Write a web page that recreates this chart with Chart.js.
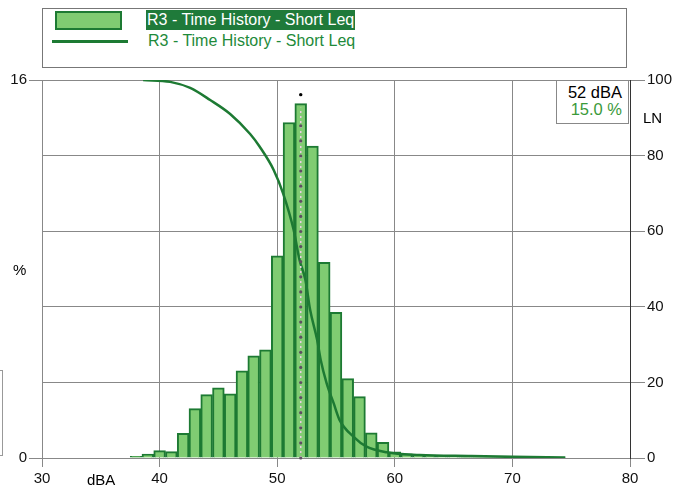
<!DOCTYPE html>
<html>
<head>
<meta charset="utf-8">
<script src="https://cdn.jsdelivr.net/npm/chart.js@4/dist/chart.umd.min.js"></script>
<style>
  html, body { margin:0; padding:0; background:#fff; }
  #wrap { position:relative; width:680px; height:490px; font-family:"Liberation Sans", Arial, sans-serif; }
  #c { position:absolute; left:0; top:0; }
  .abs { position:absolute; white-space:nowrap; }
  #legend { left:42px; top:8px; width:585px; height:60px; border:1px solid #777; background:#fff; box-sizing:border-box; }
  #sw1 { left:12px; top:2px; width:67px; height:19px; background:#80cc72; border:2px solid #1d7a33; box-sizing:border-box; }
  #sw2 { left:9px; top:31px; width:76px; height:3px; background:#1d7a33; }
  #lt1 { left:103px; top:1px; height:20px; line-height:20px; padding:0 1px; background:#1f7a3a; color:#fff; font-size:16px; }
  #lt2 { left:105px; top:22px; line-height:20px; color:#1e8a3a; font-size:16px; }
  #info { left:556px; top:80px; width:73px; height:44px; border:1px solid #888; background:#fff; box-sizing:border-box; font-size:16.5px; text-align:right; padding-right:6px; line-height:17px; padding-top:3px; }
  #info .g { color:#3a9a3a; }
</style>
</head>
<body>
<div id="wrap">
  <canvas id="c" width="680" height="490"></canvas>
  <div id="legend" class="abs">
    <div id="sw1" class="abs"></div>
    <div id="lt1" class="abs">R3 - Time History - Short Leq</div>
    <div id="sw2" class="abs"></div>
    <div id="lt2" class="abs">R3 - Time History - Short Leq</div>
  </div>
  <div id="info" class="abs"><div>52 dBA</div><div class="g">15.0 %</div></div>
  <div class="abs" style="left:13px;top:261px;font-size:15px;">%</div>
  <div class="abs" style="left:643px;top:109px;font-size:15px;">LN</div>
  <div class="abs" style="left:87px;top:471px;font-size:15px;">dBA</div>
  <div class="abs" style="left:-1px;top:370px;width:4px;height:86px;border:1px solid #999;box-sizing:border-box;"></div>
</div>
<script>
// Histogram bins (dBA, bin centers) and percentage of time in each bin
const dbaBins = [38,39,40,41,42,43,44,45,46,47,48,49,50,51,52,53,54,55,56,57,58,59,60,61,62,63,64,65,66,67,68,69,70,71,72,73,74];
const pctValues = [0.07,0.17,0.31,0.27,1.04,2.09,2.68,2.97,2.72,3.69,4.32,4.58,8.56,14.2,15.0,13.2,8.28,6.17,3.36,2.6,1.07,0.66,0.26,0.18,0.15,0.12,0.1,0.1,0.08,0.07,0.06,0.06,0.05,0.04,0.04,0.04,0.03];

// Cumulative LN curve (level dBA -> percent exceeded)
const lnLevels = [38.6,40.9,42.6,44.3,46.0,47.7,48.5,49.7,50.5,51.4,51.9,52.4,52.8,53.4,53.7,54.2,54.8,55.3,56.5,57.6,59.3,62.1,66.5,70,74.5];
const lnValues = [100,99.5,97.9,94.7,91.0,85.7,82.4,76.2,70.0,60.3,52.4,47.1,39.2,31.2,25.9,19.8,14.5,10.1,5.6,3.0,1.5,0.8,0.5,0.3,0.1];

// Axis ticks
const xTicks = [30,40,50,60,70,80];
const pctTicks = [0,16];
const lnTicks = [0,20,40,60,80,100];

// Cursor
const cursorLevel = 52;
const cursorPct = 15.0;

const barData = dbaBins.map((x,i)=>({x:x, y:pctValues[i]}));
const lineData = lnLevels.map((x,i)=>({x:x, y:lnValues[i]}));

const FONT = {family:'"Liberation Sans", Arial, sans-serif', size:15};

const cursorPlugin = {
  id:'cursor',
  afterDatasetsDraw(chart){
    const ctx = chart.ctx;
    const xs = chart.scales.x, ys = chart.scales.y;
    const px = xs.getPixelForValue(cursorLevel);
    const yb = ys.getPixelForValue(0);
    const yt = ys.getPixelForValue(cursorPct);
    ctx.save();
    ctx.strokeStyle = '#e9cde4';
    ctx.lineWidth = 1.5;
    ctx.setLineDash([2,3]);
    ctx.beginPath(); ctx.moveTo(px, yb); ctx.lineTo(px, yt+4); ctx.stroke();
    ctx.setLineDash([]);
    ctx.fillStyle = '#5d4f60';
    for (let y = yb; y > yt + 8; y -= 15.1) {
      ctx.beginPath(); ctx.arc(px, y, 1.6, 0, Math.PI*2); ctx.fill();
    }
    ctx.fillStyle = '#000';
    ctx.beginPath(); ctx.arc(px, yt - 9, 1.7, 0, Math.PI*2); ctx.fill();
    ctx.restore();
  }
};

new Chart(document.getElementById('c'), {
  type:'bar',
  data:{
    datasets:[
      {
        type:'line',
        data:lineData,
        xAxisID:'x', yAxisID:'y2',
        borderColor:'#1d7a33', borderWidth:2.5,
        pointRadius:0, fill:false,
        cubicInterpolationMode:'monotone',
        order:0
      },
      {
        type:'bar',
        data:barData,
        xAxisID:'x', yAxisID:'y',
        backgroundColor:'#80cc72',
        borderColor:'#1d7a33', borderWidth:2,
        barPercentage:1.0, categoryPercentage:1.0,
        order:1
      }
    ]
  },
  options:{
    responsive:false, animation:false,
    layout:{padding:{top:80, left:0, right:0, bottom:0}},
    plugins:{legend:{display:false}, tooltip:{enabled:false}},
    scales:{
      x:{
        type:'linear', position:'bottom', min:30, max:80, offset:false,
        afterBuildTicks:(s)=>{ s.ticks = xTicks.map(v=>({value:v})); },
        afterFit:(s)=>{ s.height = 32; },
        grid:{color:'#888', lineWidth:1, tickLength:9, drawOnChartArea:true, offset:false},
        border:{color:'#888'},
        ticks:{color:'#111', font:FONT, padding:3, maxRotation:0}
      },
      y:{
        type:'linear', position:'left', min:0, max:16,
        afterBuildTicks:(s)=>{ s.ticks = pctTicks.map(v=>({value:v})); },
        afterFit:(s)=>{ s.width = 42; },
        grid:{color:'#888', drawOnChartArea:false, tickLength:13, offset:false},
        border:{color:'#888'},
        ticks:{color:'#111', font:FONT, padding:2}
      },
      y2:{
        type:'linear', position:'right', min:0, max:100,
        afterBuildTicks:(s)=>{ s.ticks = lnTicks.map(v=>({value:v})); },
        afterFit:(s)=>{ s.width = 50; },
        grid:{color:'#888', drawOnChartArea:true, tickLength:15, offset:false},
        border:{color:'#333'},
        ticks:{color:'#111', font:FONT, padding:2}
      }
    }
  },
  plugins:[cursorPlugin]
});
</script>
</body>
</html>
